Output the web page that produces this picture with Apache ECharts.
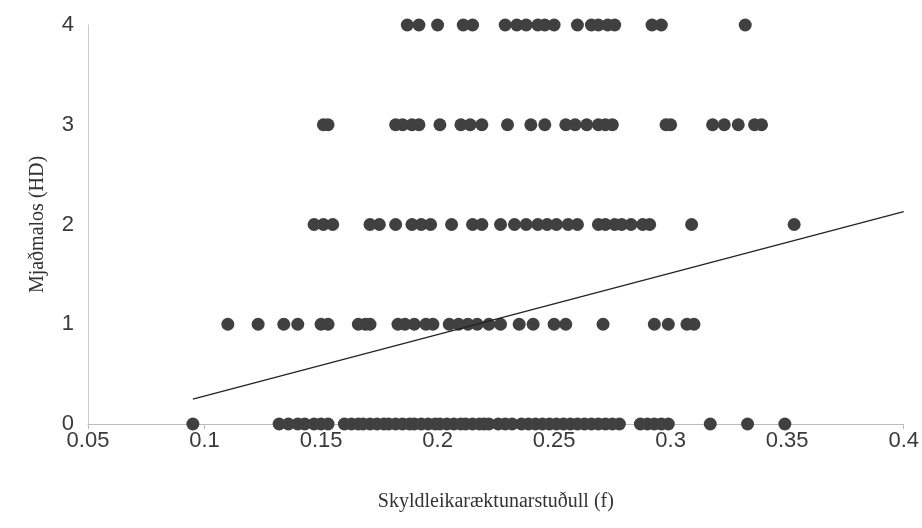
<!DOCTYPE html>
<html>
<head>
<meta charset="utf-8">
<script src="https://cdn.jsdelivr.net/npm/echarts@6/dist/echarts.min.js"></script>
<style>html,body{margin:0;padding:0;background:#fff}#c{width:922px;height:528px}</style>
</head>
<body>
<div id="c"></div>
<script>
// Inbreeding coefficient (f) values for each hip dysplasia score (HD 0..4)
const hd4 = [0.187,0.192,0.200,0.211,0.215,0.229,0.234,0.238,0.243,0.246,0.250,0.260,0.266,0.269,0.273,0.276,0.292,0.296,0.332];
const hd3 = [0.151,0.153,0.182,0.185,0.189,0.192,0.201,0.210,0.214,0.219,0.230,0.240,0.246,0.255,0.259,0.264,0.269,0.272,0.275,0.298,0.300,0.318,0.323,0.329,0.336,0.339];
const hd2 = [0.147,0.151,0.155,0.171,0.175,0.182,0.189,0.193,0.197,0.206,0.215,0.219,0.227,0.233,0.238,0.243,0.247,0.251,0.256,0.260,0.269,0.272,0.276,0.279,0.283,0.288,0.291,0.309,0.353];
const hd1 = [0.110,0.123,0.134,0.140,0.150,0.153,0.166,0.169,0.171,0.183,0.186,0.190,0.195,0.198,0.205,0.209,0.213,0.217,0.222,0.227,0.235,0.241,0.250,0.255,0.271,0.293,0.299,0.307,0.310];
const hd0 = [0.095,0.132,0.136,0.140,0.143,0.147,0.150,0.153,
  0.160,0.163,0.166,0.168,0.171,0.174,0.177,0.179,0.182,0.185,0.188,0.190,0.193,0.196,0.199,0.201,0.204,0.207,0.210,0.212,0.215,0.218,0.220,0.222,
  0.226,0.229,0.232,
  0.236,0.239,0.242,0.245,0.248,0.251,0.254,0.257,0.260,0.263,0.266,0.269,0.272,0.275,0.278,
  0.287,0.290,0.293,0.296,0.299,0.317,0.333,0.349];
const scoreGroups = [hd0, hd1, hd2, hd3, hd4];
// Linear trend line endpoints [f, HD]
const trendLine = [[0.095, 0.25], [0.4, 2.13]];
const xTicks = ['0.05','0.1','0.15','0.2','0.25','0.3','0.35','0.4'];
const yTicks = ['0','1','2','3','4'];
const xTitle = 'Skyldleikaræktunarstuðull (f)';
const yTitle = 'Mjaðmalos (HD)';

const points = [];
scoreGroups.forEach((arr, score) => arr.forEach(f => points.push([f, score])));

const chart = echarts.init(document.getElementById('c'));
chart.setOption({
  backgroundColor: '#ffffff',
  animation: false,
  grid: {left: 88, right: 18, top: 25, bottom: 104},
  xAxis: {
    type: 'value', min: 0.05, max: 0.4, interval: 0.05,
    name: xTitle, nameLocation: 'middle', nameGap: 68,
    nameTextStyle: {fontFamily: 'Liberation Serif', fontSize: 20, color: '#333'},
    axisLine: {show: true, lineStyle: {color: '#bbbbbb', width: 1}},
    axisTick: {show: true, inside: false, length: 5, lineStyle: {color: '#bbbbbb'}},
    splitLine: {show: false},
    axisLabel: {
      fontFamily: 'Liberation Sans', fontSize: 22, color: '#3a3a3a', margin: 6,
      formatter: v => xTicks[Math.round((v - 0.05) / 0.05)]
    }
  },
  yAxis: {
    type: 'value', min: 0, max: 4, interval: 1,
    name: yTitle, nameLocation: 'middle', nameGap: 40, nameRotate: 90,
    nameTextStyle: {fontFamily: 'Liberation Serif', fontSize: 20, color: '#333'},
    axisLine: {show: true, lineStyle: {color: '#cccccc', width: 1}},
    axisTick: {show: false},
    splitLine: {show: false},
    axisLabel: {
      fontFamily: 'Liberation Sans', fontSize: 22, color: '#3a3a3a', margin: 14,
      formatter: v => yTicks[Math.round(v)]
    }
  },
  series: [
    {
      type: 'scatter', data: points, symbol: 'circle', symbolSize: 13,
      itemStyle: {color: '#404040', opacity: 1}
    },
    {
      type: 'line', data: trendLine, symbol: 'none',
      lineStyle: {color: '#222', width: 1.3}, z: 3
    }
  ]
});
</script>
</body>
</html>
